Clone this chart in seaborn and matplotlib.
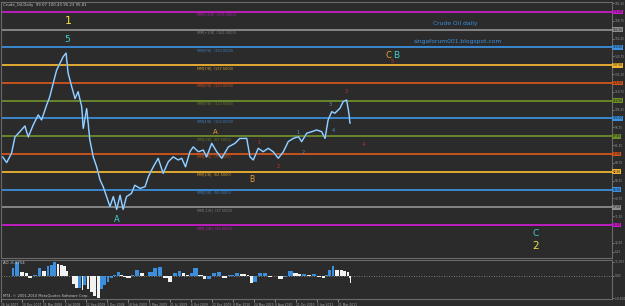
import numpy as np
import pandas as pd
import matplotlib
matplotlib.use("Agg")
import matplotlib.pyplot as plt
import seaborn as sns

# ---------------- data ----------------
tick_dates = ["2007-07-26", "2007-12-10", "2008-03-31", "2008-07-02", "2008-09-22",
              "2008-12-05", "2009-02-18", "2009-05-05", "2009-07-21", "2009-10-06",
              "2009-12-22", "2010-03-08", "2010-05-24", "2010-08-08", "2010-10-21",
              "2011-01-05", "2011-03-21"]
tick_labels = ["26 Jul 2007", "10 Dec 2007", "31 Mar 2008", "2 Jul 2008", "22 Sep 2008",
               "5 Dec 2008", "18 Feb 2009", "5 May 2009", "21 Jul 2009", "6 Oct 2009",
               "22 Dec 2009", "8 Mar 2010", "24 May 2010", "8 Aug 2010", "21 Oct 2010",
               "5 Jan 2011", "21 Mar 2011"]

price_dates = ["2007-08-03", "2007-08-29", "2007-09-30", "2007-10-22", "2007-11-23",
               "2007-12-23", "2008-01-10", "2008-02-05", "2008-03-03", "2008-03-21",
               "2008-04-14", "2008-04-28", "2008-05-13", "2008-05-28", "2008-06-12",
               "2008-06-26", "2008-07-08", "2008-07-16", "2008-07-30", "2008-08-12",
               "2008-08-24", "2008-09-07", "2008-09-13", "2008-09-26", "2008-10-07",
               "2008-10-19", "2008-10-31", "2008-11-12", "2008-11-23", "2008-12-05",
               "2008-12-17", "2008-12-29", "2009-01-10", "2009-01-22", "2009-02-02",
               "2009-02-14", "2009-03-04", "2009-03-16", "2009-04-04", "2009-04-22",
               "2009-05-04", "2009-05-22", "2009-06-09", "2009-06-27", "2009-07-16",
               "2009-08-03", "2009-08-21", "2009-09-03", "2009-09-17", "2009-10-03",
               "2009-10-15", "2009-11-03", "2009-11-21", "2009-12-03", "2009-12-22",
               "2010-01-09", "2010-01-27", "2010-02-20", "2010-03-16", "2010-04-03",
               "2010-04-28", "2010-05-10", "2010-05-22", "2010-06-09", "2010-06-27",
               "2010-07-15", "2010-08-02", "2010-08-20", "2010-09-07", "2010-09-24",
               "2010-10-12", "2010-10-30", "2010-11-11", "2010-11-29", "2010-12-17",
               "2011-01-04", "2011-01-22", "2011-02-03", "2011-02-14", "2011-02-27",
               "2011-03-10", "2011-03-28", "2011-04-09", "2011-04-21", "2011-04-29",
               "2011-05-03"]
price_close = [73, 69, 75.5, 87, 90.7, 94.7, 87, 95.4, 102.5, 99,
               109.5, 115.4, 124.8, 134, 138.9, 143.5, 146, 132, 122.4, 114,
               118.9, 108.3, 93, 107, 85, 73, 66, 56.7, 52, 45,
               38, 45, 36, 46, 36, 45, 47.3, 53, 50.8, 52,
               59, 66, 72, 61.4, 69.6, 73, 70.8, 72, 66, 76.6,
               80, 76.6, 77.8, 73, 82.5, 76.6, 72, 80, 82.5, 86,
               86, 73, 70.8, 79, 76.6, 79, 76.6, 72, 76.6, 83.7,
               86, 87.2, 83.7, 89.6, 90.7, 91.9, 90.7, 86, 99, 104.8,
               103.7, 107.2, 112, 113, 103.7, 96.6]
ao_values = [np.nan, np.nan, 6, 11, 3, 2, -1.5, 1, 6, 4,
             8, 9, 11.5, 10, 9, 8, 4, 0, -7, -10,
             -10, -12, -8, -11, -13, -17, -18, -11, -8, -5,
             -2, 1, 3, 1, -1, -1.5, 1, 5, 2, -0.5,
             3, 6, 7, -2, -5, 2, 4, 2, 0.5, 2,
             6, 1, -3, -3, 2, 3, -2, 1, 2.5, 1.5,
             0.5, -6, -5, 2, 2.5, -1, -0.5, -3, -1, 3.5,
             2, 1.5, 1.5, 1, 1.5, -1, -1.5, 1, 5, 8,
             5, 4.5, 4, 3, -2, -6]

mm_levels = [175.0, 162.5, 150.0, 137.5, 125.0, 112.5, 100.0, 87.5, 75.0, 62.5, 50.0, 37.5, 25.0]
mm_names = ["+2/8", "+1/8", "8/8", "7/8", "6/8", "5/8", "4/8", "3/8", "2/8", "1/8", "0/8", "-1/8", "-2/8"]
mm_colors = ["#c81ec8", "#8c8c8c", "#3c8fdc", "#f0b432", "#d2561e", "#6e8c2a", "#3c8fdc",
             "#6e8c2a", "#d2561e", "#f0b432", "#3c8fdc", "#8c8c8c", "#c81ec8"]

# ---------------- scale (MT4 bar axis: labelled dates equally spaced) ----------------
tick_ord = np.array([pd.Timestamp(d).toordinal() for d in tick_dates], float)
tick_idx = np.arange(len(tick_dates), dtype=float)


def to_pos(dates):
    o = np.array([pd.Timestamp(d).toordinal() for d in dates], float)
    p = np.interp(o, tick_ord, tick_idx)
    last_span = tick_ord[-1] - tick_ord[-2]
    over = o > tick_ord[-1]
    p[over] = tick_idx[-1] + (o[over] - tick_ord[-1]) / last_span
    return p


pos = to_pos(price_dates)

BG = "#2b2b2b"
sns.set_theme(style="dark", rc={"axes.facecolor": BG, "figure.facecolor": BG,
                                "axes.edgecolor": "#6a6a6a", "axes.grid": False})
plt.rcParams["font.family"] = ["DejaVu Sans"]

W, H = 625, 306
fig = plt.figure(figsize=(W / 100, H / 100), dpi=100)
ax = fig.add_axes([1 / W, 1 - 258 / H, 611 / W, 256 / H])
ax2 = fig.add_axes([1 / W, 1 - 299 / H, 611 / W, 39 / H])

xmin, xmax = -0.02, 29.03
for a in (ax, ax2):
    a.set_xlim(xmin, xmax)
    a.set_facecolor(BG)
    for s in a.spines.values():
        s.set_color("#6a6a6a")
        s.set_linewidth(0.8)

# Murrey math lines
for lvl, nm, c in zip(mm_levels, mm_names, mm_colors):
    ax.axhline(lvl, color=c, lw=1.3, zorder=1)
    ax.text(9.3, lvl - 0.6, f"MM[{nm}]  ({lvl:.4f})", fontsize=2.5, color=c,
            va="top", ha="left", alpha=0.85)
    ax.text(1.001, lvl, f"{lvl:.2f}", transform=ax.get_yaxis_transform(), fontsize=2.1,
            color="#101010", va="center", ha="left", clip_on=False,
            bbox=dict(facecolor=c, edgecolor="none", pad=0.3))

# price
sns.lineplot(x=pos, y=price_close, ax=ax, color="#4f9de0", lw=1.2, zorder=3)
sns.lineplot(x=pos, y=price_close, ax=ax, color="#eaf5ff", lw=0.45, alpha=0.85, zorder=4)
ax.set_ylim(1.8, 182)
ax.set_xticks([])
ax.yaxis.tick_right()
mid_ticks = [l + 6.25 for l in mm_levels] + [12.5, 6.25]
ax.set_yticks(mid_ticks)
ax.set_yticklabels([f"{v:.2f}" for v in mid_ticks])
ax.tick_params(axis="y", labelsize=2.1, colors="#9a9a9a", length=1.5, width=0.5, pad=0.6,
               right=True, left=False)
ax.set_xlabel("")
ax.set_ylabel("")

# AO histogram
ao = np.array(ao_values, float)
prev = np.concatenate([[np.nan], ao[:-1]])
cols = ["#3c8fdc" if (np.isnan(p) or v >= p) else "#f2f2f2" for v, p in zip(ao, prev)]
gaps = np.diff(pos)
widths = np.concatenate([gaps, [gaps[-1]]]) * 0.85
ax2.bar(pos, np.nan_to_num(ao), width=widths, align="edge", color=cols, edgecolor="none", zorder=2)
ax2.axhline(0, color="#9a9a9a", lw=0.6, ls=(0, (1, 2)), zorder=1)
ax2.set_ylim(-19.1, 12.9)
ax2.yaxis.tick_right()
ax2.set_yticks([11.503, 0, -18.6])
ax2.set_yticklabels(["11.503", "0.00", "-18.600"])
ax2.tick_params(axis="y", labelsize=2.1, colors="#9a9a9a", length=1.5, width=0.5, pad=0.6,
                right=True, left=False)
ax2.set_xticks(tick_idx)
ax2.set_xticklabels(tick_labels, ha="left")
ax2.tick_params(axis="x", labelsize=2.2, colors="#a8a8a8", length=2, width=0.5, pad=0.8,
                bottom=True)

# texts
def ftext(px, py, s, color, size, **kw):
    fig.text(px / W, 1 - py / H, s, color=color, fontsize=size, ha=kw.pop("ha", "center"),
             va=kw.pop("va", "center"), **kw)

ftext(3, 5, "Crude_Oil,Daily  99.07 100.43 95.23 95.81", "#c8c8c8", 2.8, ha="left")
ftext(3, 263, "AO -6.1754", "#c8c8c8", 2.8, ha="left")
ftext(3, 296, "MT4, \u00a9 2001-2010 MetaQuotes Software Corp.", "#c8c8c8", 2.6, ha="left")
ftext(455, 23, "Crude Oil daily", "#3c8fdc", 4.3)
ftext(458, 42, "singaforum001.blogspot.com", "#3c8fdc", 4.3)

YEL, CYA, ORA, RED, BLU = "#f0e446", "#3ed2cf", "#e8a030", "#c83232", "#4a8fd0"
labels = [("1", 68, 21, YEL, 8), ("5", 67, 40, CYA, 6.5), ("A", 117, 220, CYA, 6),
          ("A", 215, 132, ORA, 5), ("B", 252, 179, ORA, 5.5), ("C", 388, 55, ORA, 6),
          ("B", 396, 55, CYA, 6.5), ("5", 392, 62, RED, 3.5), ("3", 346, 91, RED, 3.5),
          ("3", 330, 104, BLU, 3.5), ("1", 259, 142, RED, 3.5), ("2", 278, 166, RED, 3.5),
          ("1", 298, 132, BLU, 3.5), ("2", 303, 152, BLU, 3.5), ("4", 333, 131, BLU, 3.5),
          ("4", 363, 144, RED, 3.5), ("C", 536, 234, CYA, 6.5), ("2", 536, 246, YEL, 7.5)]
for s, px, py, c, fs in labels:
    ftext(px, py, s, c, fs)

fig.savefig("out.png", dpi=100, facecolor=BG)
